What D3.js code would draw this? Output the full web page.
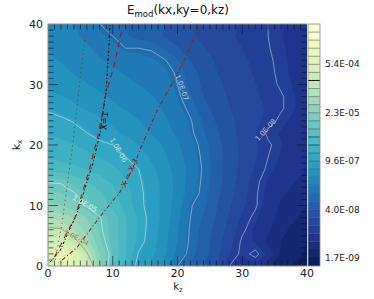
<!DOCTYPE html>
<html><head><meta charset="utf-8">
<script src="https://cdn.jsdelivr.net/npm/d3@7"></script>
<style>html,body{margin:0;background:#fff}svg{display:block}text{font-family:"DejaVu Sans",sans-serif}</style>
</head><body><svg id="c" width="374" height="299"></svg>
<script>
// log10(E); rows kx = 0,2,...,40; columns kz = 0,2,...,40
const kzTicks=[0,10,20,30,40], kxTicks=[0,10,20,30,40];
const colorbarLabels=["1.7E-09","4.0E-08","9.6E-07","2.3E-05","5.4E-04"];
const colorbarLabelBands=[1,7,13,19,25];
const logGrid=[
[-3.5,-3.1,-3.15,-3.5,-4.5,-5.3,-5.7,-6.1,-6.3,-6.6,-7.0,-7.2,-7.4,-7.65,-8.0,-8.2,-8.12,-8.5,-8.65,-8.8,-8.95],
[-3.35,-3.2,-3.3,-3.95,-4.7,-5.12,-5.55,-6.03,-6.2,-6.45,-6.78,-7.1,-7.3,-7.55,-7.85,-8.06,-7.95,-8.12,-8.58,-8.62,-8.85],
[-3.6,-3.55,-3.85,-4.3,-4.85,-5.2,-5.55,-5.88,-6.15,-6.42,-6.72,-7.05,-7.28,-7.52,-7.78,-8.04,-8.1,-8.38,-8.55,-8.68,-8.78],
[-3.95,-3.97,-4.2,-4.55,-4.95,-5.2,-5.55,-5.85,-6.12,-6.4,-6.7,-7.03,-7.25,-7.48,-7.72,-7.96,-8.12,-8.28,-8.48,-8.6,-8.7],
[-4.2,-4.3,-4.45,-4.68,-4.98,-5.22,-5.55,-5.85,-6.1,-6.35,-6.65,-7.0,-7.2,-7.42,-7.65,-7.9,-8.05,-8.22,-8.4,-8.52,-8.62],
[-4.6,-4.65,-4.8,-5.04,-5.22,-5.42,-5.68,-5.92,-6.12,-6.36,-6.6,-6.98,-7.12,-7.38,-7.6,-7.82,-7.97,-8.18,-8.34,-8.44,-8.54],
[-4.85,-4.88,-4.98,-5.14,-5.3,-5.5,-5.72,-5.93,-6.12,-6.34,-6.56,-6.84,-7.08,-7.34,-7.56,-7.78,-7.97,-8.14,-8.28,-8.38,-8.46],
[-5.02,-5.03,-5.2,-5.36,-5.5,-5.62,-5.78,-5.96,-6.14,-6.36,-6.56,-6.82,-7.05,-7.3,-7.52,-7.74,-7.95,-8.1,-8.22,-8.3,-8.38],
[-5.45,-5.48,-5.52,-5.58,-5.66,-5.76,-5.88,-6.0,-6.2,-6.4,-6.58,-6.8,-7.03,-7.28,-7.5,-7.7,-7.88,-8.04,-8.15,-8.24,-8.32],
[-5.6,-5.63,-5.68,-5.74,-5.82,-5.88,-6.0,-6.14,-6.3,-6.46,-6.62,-6.84,-7.05,-7.3,-7.5,-7.68,-7.84,-8.0,-8.1,-8.2,-8.28],
[-5.72,-5.76,-5.8,-5.86,-5.94,-6.0,-6.14,-6.26,-6.38,-6.52,-6.68,-6.88,-7.08,-7.32,-7.52,-7.68,-7.82,-7.97,-8.08,-8.16,-8.24],
[-5.82,-5.85,-5.9,-6.0,-6.1,-6.2,-6.3,-6.4,-6.5,-6.62,-6.76,-6.95,-7.15,-7.36,-7.55,-7.7,-7.85,-8.04,-8.1,-8.16,-8.22],
[-5.92,-5.95,-6.02,-6.12,-6.22,-6.32,-6.4,-6.48,-6.56,-6.68,-6.82,-6.98,-7.2,-7.42,-7.58,-7.7,-7.8,-7.92,-8.05,-8.12,-8.18],
[-6.03,-6.1,-6.2,-6.28,-6.36,-6.44,-6.5,-6.57,-6.64,-6.74,-6.88,-7.06,-7.3,-7.5,-7.62,-7.72,-7.8,-7.88,-7.98,-8.08,-8.16],
[-6.2,-6.25,-6.32,-6.38,-6.45,-6.52,-6.58,-6.64,-6.7,-6.8,-6.95,-7.15,-7.4,-7.55,-7.65,-7.75,-7.83,-7.91,-7.98,-8.08,-8.16],
[-6.32,-6.36,-6.42,-6.48,-6.54,-6.6,-6.66,-6.72,-6.78,-6.86,-7.0,-7.25,-7.45,-7.58,-7.68,-7.77,-7.85,-7.93,-8.03,-8.1,-8.18],
[-6.4,-6.44,-6.5,-6.56,-6.62,-6.68,-6.74,-6.8,-6.86,-6.92,-7.03,-7.3,-7.5,-7.62,-7.72,-7.8,-7.88,-7.96,-8.04,-8.12,-8.2],
[-6.45,-6.5,-6.55,-6.62,-6.7,-6.76,-6.82,-6.88,-6.93,-6.98,-7.15,-7.4,-7.55,-7.65,-7.73,-7.82,-7.9,-7.97,-8.05,-8.13,-8.2],
[-6.5,-6.55,-6.6,-6.68,-6.78,-6.88,-7.0,-7.0,-7.02,-7.2,-7.38,-7.52,-7.62,-7.7,-7.78,-7.86,-7.93,-7.99,-8.06,-8.14,-8.22],
[-6.55,-6.6,-6.67,-6.78,-6.9,-7.0,-7.15,-7.25,-7.33,-7.42,-7.52,-7.6,-7.68,-7.75,-7.82,-7.9,-7.95,-8.0,-8.08,-8.15,-8.22],
[-6.6,-6.65,-6.72,-6.85,-7.0,-7.1,-7.18,-7.25,-7.32,-7.4,-7.5,-7.58,-7.65,-7.72,-7.8,-7.88,-7.93,-8.0,-8.08,-8.15,-8.22]
];
const levelStart=-9, levelStep=1.37/6, bandCount=30;
const contourLevels=[-8,-7,-6,-5,-4];
const contourLabels=["1.0E-08","1.0E-07","1.0E-06","1.0E-05","1.0E-04"];
const contourColors=["#8fa8d0","#8fb4d6","#9fd0da","#c0e4d4","#a89672"];
// rays in (kz, kx)
const rayDotted=[[1.1,1],[2.2,7.3],[3,13.7],[3.7,19],[5.9,39.5]];
const rayBlack=[[0.3,0.6],[1.9,2.6],[3.1,5.5],[4.5,8.7],[7,17.2],[8,21.8],[9,29.2],[9.6,40]];
const rayRedDash=[[1,1.5],[4.2,8.1],[6.5,16.4],[7.7,21.4],[9,28.6],[10.3,33.5],[11.6,40]];
const rayRedDashDot=[[2.2,1],[4.5,3.1],[8,8.1],[11.1,12.2],[13,15.9],[14.2,19.2],[16.8,25.6],[19.6,31],[21.5,35],[23.3,40]];

const W=374,H=299,L=48,R=307,T=24,B=266;
const svg=d3.select("#c");
const x=d3.scaleLinear().domain([0,40]).range([L,R]);
const y=d3.scaleLinear().domain([0,40]).range([B,T]);
const color=i=>d3.interpolateYlGnBu(1-(i+0.5)/bandCount);
const flat=logGrid.flat(), nx=logGrid[0].length, ny=logGrid.length;
const gen=d3.contours().size([nx,ny]).smooth(true);
const proj=d3.geoTransform({point(px,py){this.stream.point(x((px-0.5)*2),y((py-0.5)*2));}});
const path=d3.geoPath(proj);
const defs=svg.append("defs");
defs.append("clipPath").attr("id","plot").append("rect").attr("x",L).attr("y",T).attr("width",R-L).attr("height",B-T);
const g=svg.append("g").attr("clip-path","url(#plot)");
g.append("rect").attr("x",L).attr("y",T).attr("width",R-L).attr("height",B-T).attr("fill",color(1));
const bands=d3.range(bandCount);
g.selectAll("path.band").data(bands).join("path").attr("class","band")
 .attr("d",i=>path(gen.contour(flat,levelStart+i*levelStep)))
 .attr("fill",i=>color(i)).attr("stroke",i=>color(i)).attr("stroke-width",0.3);
g.selectAll("path.iso").data(contourLevels).join("path").attr("class","iso")
 .attr("d",l=>path(gen.contour(flat,l))).attr("fill","none")
 .attr("stroke",(l,i)=>contourColors[i]).attr("stroke-width",0.8);
const line=d3.line().x(d=>x(d[0])).y(d=>y(d[1]));
function ray(pts,col,dash,w,op){g.append("path").datum(pts).attr("d",line).attr("fill","none").attr("stroke",col).attr("stroke-width",w).attr("stroke-dasharray",dash).attr("stroke-opacity",op||1);}
ray(rayDotted,"#8f2a2a","1.2 3.4",1,.85);
ray(rayBlack,"#000","2.6 2 1 2",1);
ray(rayRedDash,"#a01818","5.5 5",1.1);
ray(rayRedDashDot,"#a01818","4 2.4 1 2.4",1.05);
// ticks
const ink="rgba(10,20,40,.7)";
d3.range(0,41).forEach(v=>{
  const maj=v%10===0, len=maj?10:5.5;
  if(v===0||v===40)return;
  [[x(v),B,x(v),B-len],[x(v),T,x(v),T+len],[L,y(v),L+len,y(v)],[R,y(v),R-len,y(v)]].forEach(s=>{
    svg.append("line").attr("x1",s[0]).attr("y1",s[1]).attr("x2",s[2]).attr("y2",s[3]).attr("stroke",ink).attr("stroke-width",0.9);
  });
});
svg.append("path").attr("d",`M${L},${T}H${R}M${L},${T}V${B}H${R}`).attr("fill","none").attr("stroke","#8a8a8a").attr("stroke-width",1);
const fs=11;
kzTicks.forEach(v=>svg.append("text").attr("x",x(v)).attr("y",B+11).attr("text-anchor","middle").attr("font-size",fs).attr("fill","#222").text(v));
kxTicks.forEach(v=>svg.append("text").attr("x",L-5).attr("y",y(v)+4).attr("text-anchor","end").attr("font-size",fs).attr("fill","#222").text(v));
const xl=svg.append("text").attr("x",178).attr("y",290).attr("text-anchor","middle").attr("font-size",10).attr("fill","#222").text("k");
xl.append("tspan").attr("font-size",7).attr("dy",2).text("z");
const yl=svg.append("text").attr("transform","translate(20,145) rotate(-90)").attr("text-anchor","middle").attr("font-size",fs).attr("fill","#222").text("k");
yl.append("tspan").attr("font-size",7).attr("dy",2).text("x");
const tl=svg.append("text").attr("x",178).attr("y",14).attr("text-anchor","middle").attr("font-size",12).attr("fill","#111").text("E");
tl.append("tspan").attr("font-size",8.5).attr("dy",2.5).text("mod");
tl.append("tspan").attr("dy",-2.5).text("(kx,ky=0,kz)");
// colorbar
const cbx=308,cbw=12;
const cy=d3.scaleLinear().domain([0,bandCount]).range([B,T]);
const cb=svg.append("g");
cb.selectAll("rect").data(bands).join("rect").attr("x",cbx).attr("width",cbw)
 .attr("y",i=>cy(i+1)).attr("height",i=>cy(i)-cy(i+1)).attr("fill",i=>color(i));
const heavy={1:"#0a1a50",2:"#0a1a50",15:"#1c5a80",16:"#1c5a80",23:"#111"};
cb.selectAll("line").data(d3.range(1,bandCount)).join("line").attr("x1",cbx).attr("x2",cbx+cbw)
 .attr("y1",i=>cy(i)).attr("y2",i=>cy(i)).attr("stroke",i=>heavy[i]||"rgba(30,50,60,.55)").attr("stroke-width",i=>heavy[i]?1:.8);
cb.append("rect").attr("x",cbx).attr("y",T).attr("width",cbw).attr("height",B-T).attr("fill","none").attr("stroke","#8a8a8a").attr("stroke-width",.8);
colorbarLabels.forEach((t,i)=>svg.append("text").attr("x",325).attr("y",cy(colorbarLabelBands[i])+3).attr("font-size",9).attr("fill","#222").text(t));
// contour labels
function lab(t,kz,kx,rot,col,fz){svg.append("text").attr("transform",`translate(${x(kz)},${y(kx)}) rotate(${rot})`).attr("text-anchor","middle").attr("dy","0.35em").attr("font-size",fz||7).attr("fill",col).text(t);}
lab(contourLabels[0],33.6,22.5,-48,"#b4c6e0");
lab(contourLabels[1],20.7,29.5,70,"#b4cce0");
lab(contourLabels[2],10.9,19.2,60,"#c4e2e8");
lab(contourLabels[3],5.7,10.3,30,"#e0f2e4");
lab(contourLabels[4],4.4,4.7,28,"#9a845e");
lab("X=1",8.7,24,-85,"#111",8.5);
lab("X =  X 3",12.6,15.4,-65,"#a01818",8);
</script></body></html>
